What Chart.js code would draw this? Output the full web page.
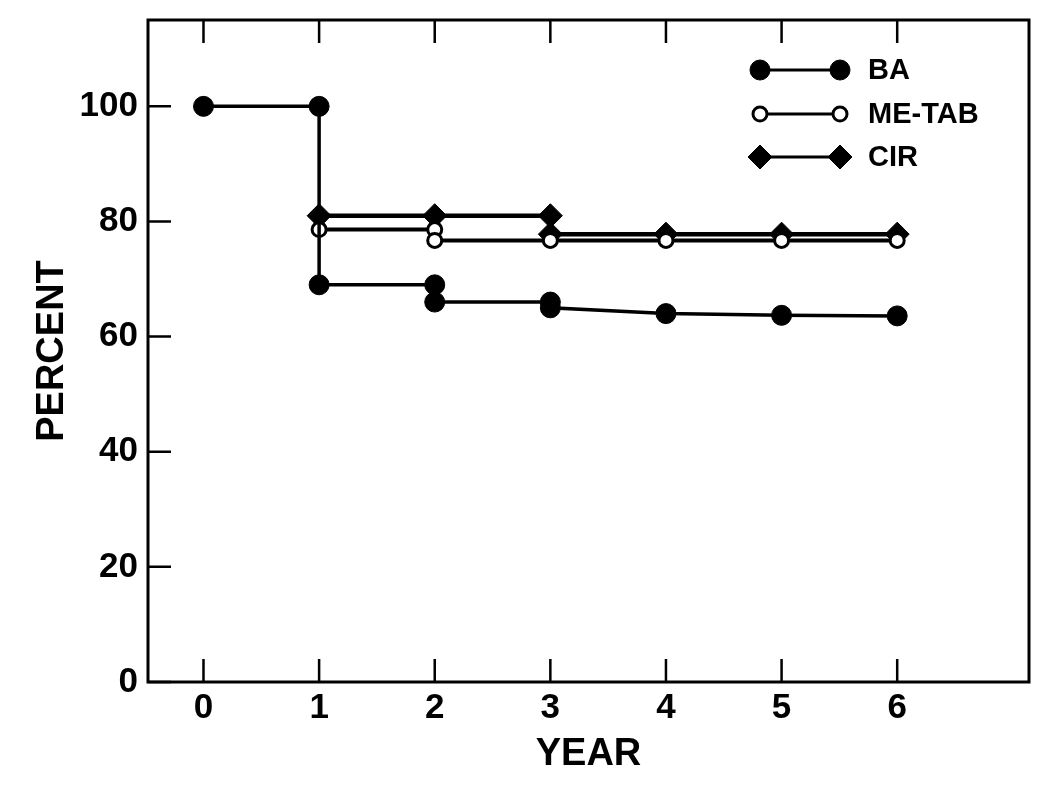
<!DOCTYPE html>
<html><head><meta charset="utf-8">
<script src="https://cdn.jsdelivr.net/npm/chart.js@4"></script>
<style>html,body{margin:0;padding:0;background:#fff}#wrap{width:1050px;height:804px;position:relative}</style>
</head><body><div id="wrap"><canvas id="c"></canvas></div>
<script>
const yearTicks = [0, 1, 2, 3, 4, 5, 6];
const percentTicks = [0, 20, 40, 60, 80, 100];
const seriesLabels = ['BA', 'ME-TAB', 'CIR'];
const baYears = [0, 1, 1, 2, 2, 3, 3, 4, 5, 6];
const baPercent = [100, 100, 69, 69, 66, 66, 65, 64, 63.7, 63.6];
const meTabYears = [1, 2, 2, 3, 4, 5, 6];
const meTabPercent = [78.6, 78.6, 76.7, 76.7, 76.7, 76.7, 76.7];
const cirYears = [1, 2, 3, 3, 4, 5, 6];
const cirPercent = [81, 81, 81, 77.8, 77.8, 77.8, 77.8];

const FONT = '"Liberation Sans", Arial, Helvetica, sans-serif';
const pts = (xs, ys) => xs.map((x, i) => ({x: x, y: ys[i]}));

const frameAndLegend = {
  id: 'frameAndLegend',
  afterDatasetsDraw(chart) {
    const {ctx, chartArea: a, scales} = chart;
    ctx.save();
    ctx.strokeStyle = '#000';
    ctx.lineWidth = 3;
    ctx.lineCap = 'square';
    ctx.strokeRect(a.left, a.top, a.right - a.left, a.bottom - a.top);
    ctx.lineWidth = 2.5;
    ctx.lineCap = 'butt';
    ctx.beginPath();
    yearTicks.forEach(v => {
      const x = scales.x.getPixelForValue(v);
      ctx.moveTo(x, a.bottom); ctx.lineTo(x, a.bottom - 23);
      ctx.moveTo(x, a.top); ctx.lineTo(x, a.top + 23);
    });
    percentTicks.forEach(v => {
      const y = scales.y.getPixelForValue(v);
      ctx.moveTo(a.left, y); ctx.lineTo(a.left + 23, y);
    });
    ctx.stroke();
    // legend
    const rows = [50, 94, 137];
    const x1 = a.right - 269, x2 = a.right - 189, tx = a.right - 161;
    chart.data.datasets.forEach((ds, i) => {
      const y = a.top + rows[i];
      ctx.strokeStyle = '#000';
      ctx.lineWidth = 3;
      ctx.beginPath(); ctx.moveTo(x1, y); ctx.lineTo(x2, y); ctx.stroke();
      [x1, x2].forEach(x => {
        ctx.fillStyle = ds.pointBackgroundColor;
        ctx.strokeStyle = ds.pointBorderColor;
        ctx.lineWidth = ds.pointBorderWidth;
        Chart.helpers.drawPoint(ctx, {pointStyle: ds.pointStyle, radius: ds.pointRadius, rotation: 0, borderWidth: ds.pointBorderWidth}, x, y);
      });
      ctx.fillStyle = '#000';
      ctx.font = 'bold 29px ' + FONT;
      ctx.textBaseline = 'middle';
      ctx.textAlign = 'left';
      ctx.fillText(ds.label, tx, y + 1);
    });
    ctx.restore();
  }
};

new Chart(document.getElementById('c'), {
  type: 'scatter',
  data: {
    datasets: [
      {label: seriesLabels[0], data: pts(baYears, baPercent), showLine: true, borderColor: '#000', borderWidth: 3.5,
       pointStyle: 'circle', pointRadius: 10, pointBackgroundColor: '#000', pointBorderColor: '#000', pointBorderWidth: 1},
      {label: seriesLabels[1], data: pts(meTabYears, meTabPercent), showLine: true, borderColor: '#000', borderWidth: 4,
       pointStyle: 'circle', pointRadius: 7, pointBackgroundColor: '#fff', pointBorderColor: '#000', pointBorderWidth: 3},
      {label: seriesLabels[2], data: pts(cirYears, cirPercent), showLine: true, borderColor: '#000', borderWidth: 4.5,
       pointStyle: 'rectRot', pointRadius: 12, pointBackgroundColor: '#000', pointBorderColor: '#000', pointBorderWidth: 1}
    ]
  },
  options: {
    responsive: true,
    maintainAspectRatio: false,
    animation: false,
    layout: {padding: {left: 0, top: 20, right: 21, bottom: 0}},
    plugins: {legend: {display: false}, tooltip: {enabled: false}},
    scales: {
      x: {
        type: 'linear', min: -0.48, max: 7.14,
        grid: {display: false, drawTicks: false}, border: {display: false},
        afterBuildTicks: s => { s.ticks = yearTicks.map(v => ({value: v})); },
        afterFit: s => { s.height = 122; s.paddingLeft = 0; s.paddingRight = 0; },
        ticks: {color: '#000', padding: 5, maxRotation: 0, autoSkip: false, font: {family: FONT, size: 35, weight: 'bold'}},
        title: {display: true, text: 'YEAR', color: '#000', padding: 27, font: {family: FONT, size: 38, weight: 'bold', lineHeight: 1.2}}
      },
      y: {
        type: 'linear', min: 0, max: 115,
        grid: {display: false, drawTicks: false}, border: {display: false},
        afterBuildTicks: s => { s.ticks = percentTicks.map(v => ({value: v})); },
        afterFit: s => { s.width = 148; s.paddingTop = 0; s.paddingBottom = 0; },
        ticks: {color: '#000', padding: 10, autoSkip: false, font: {family: FONT, size: 35, weight: 'bold'}},
        title: {display: true, text: 'PERCENT', color: '#000', padding: 30, font: {family: FONT, size: 38, weight: 'bold', lineHeight: 1.2}}
      }
    }
  },
  plugins: [frameAndLegend]
});
</script>
</body></html>
